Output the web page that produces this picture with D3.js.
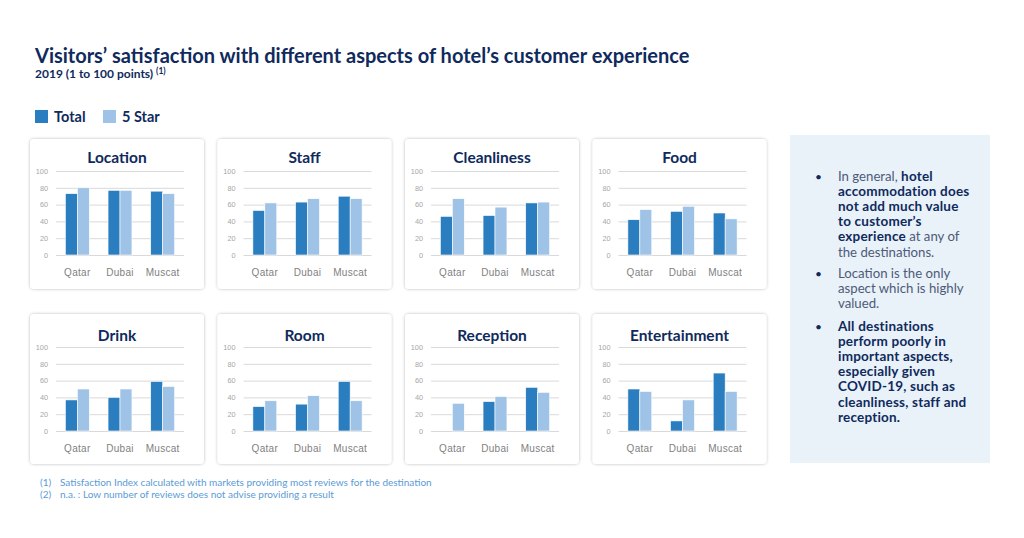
<!DOCTYPE html>
<html>
<head>
<meta charset="utf-8">
<script src="https://cdn.jsdelivr.net/npm/d3@7"></script>
<style>
  body { margin: 0; background: #fff; }
  svg { display: block; font-family: Lato, "Open Sans", sans-serif; }
  .tick text { fill: #a6a6a6; font-size: 7.3px; }
</style>
</head>
<body>
<svg width="1024" height="538"></svg>
<script>
// **** data ****
var aspects = ["Location", "Staff", "Cleanliness", "Food", "Drink", "Room", "Reception", "Entertainment"];
var cities = ["Qatar", "Dubai", "Muscat"];
var series = ["Total", "5 Star"];
var totalVals = [[73, 77, 76], [53, 63, 70], [46, 47, 62], [42, 52, 50], [37, 40, 59], [29, 32, 59], [null, 35, 52], [50, 12, 69]];
var fiveStarVals = [[80, 77, 73], [62, 67, 67], [67, 57, 63], [54, 58, 43], [50, 50, 53], [36, 42, 36], [33, 41, 46], [47, 37, 47]];
var yTicks = [0, 20, 40, 60, 80, 100];

var colors = {"Total": "#2a7ec0", "5 Star": "#9fc3e7"};
var navy = "#0f2a5c";

var svg = d3.select("svg");

// shadow for the cards
var defs = svg.append("defs");
var f = defs.append("filter").attr("id", "shadow").attr("x", "-10%").attr("y", "-10%").attr("width", "120%").attr("height", "120%");
f.append("feGaussianBlur").attr("in", "SourceAlpha").attr("stdDeviation", 1.6).attr("result", "b");
f.append("feFlood").attr("flood-color", "#000").attr("flood-opacity", 0.28);
f.append("feComposite").attr("in2", "b").attr("operator", "in").attr("result", "s");
var m = f.append("feMerge");
m.append("feMergeNode").attr("in", "s");
m.append("feMergeNode").attr("in", "SourceGraphic");

// **** titles ****
svg.append("text").attr("x", 35).attr("y", 63)
    .style("font-size", "20px").style("font-weight", 700).style("fill", navy)
    .text("Visitors’ satisfaction with different aspects of hotel’s customer experience");

var sub = svg.append("text").attr("x", 35).attr("y", 78)
    .style("font-size", "12px").style("font-weight", 700).style("fill", navy);
sub.append("tspan").text("2019 (1 to 100 points) ");
sub.append("tspan").attr("dy", -4).style("font-size", "8.5px").text("(1)");

// legend
var legend = svg.append("g").attr("transform", "translate(35,110)");
series.forEach(function (s, i) {
    var lx = i * 68;
    legend.append("rect").attr("x", lx).attr("y", 0).attr("width", 13).attr("height", 13).style("fill", colors[s]);
    legend.append("text").attr("x", lx + 19).attr("y", 12)
        .style("font-size", "14.5px").style("font-weight", 700).style("fill", navy).text(s);
});

// **** small multiples ****
var panelW = 174, panelH = 150;

var x0 = d3.scaleBand().domain(cities).range([26, 154]).paddingInner(0.44).paddingOuter(0.22);
var x1 = d3.scaleBand().domain(series).range([0, x0.bandwidth()]);
var y = d3.scaleLinear().domain([0, 100]).range([116, 32]);

aspects.forEach(function (name, i) {
    var col = i % 4, row = Math.floor(i / 4);
    var g = svg.append("g")
        .attr("transform", "translate(" + (30 + col * 187.5) + "," + (139 + row * 175) + ")");

    g.append("rect").attr("width", panelW).attr("height", panelH).attr("rx", 4)
        .style("fill", "#fff").attr("filter", "url(#shadow)");

    g.append("text").attr("x", panelW / 2).attr("y", row ? 27 : 24).attr("text-anchor", "middle")
        .style("font-size", "15.5px").style("font-weight", 700).style("fill", navy).text(name);

    var inner = g.append("g").attr("transform", "translate(0," + (row ? 1 : 0) + ")");

    var yAxis = inner.append("g").attr("transform", "translate(26,0)")
        .call(d3.axisLeft(y).tickValues(yTicks).tickSize(-128).tickPadding(8));
    yAxis.select(".domain").remove();
    yAxis.selectAll(".tick line").style("stroke", "#d9d9d9");

    var rows = cities.map(function (c, j) {
        return {city: c, vals: [{s: "Total", v: totalVals[i][j]}, {s: "5 Star", v: fiveStarVals[i][j]}]};
    });

    inner.selectAll(".grp").data(rows).enter().append("g")
        .attr("transform", function (d) { return "translate(" + x0(d.city) + ",0)"; })
        .selectAll("rect").data(function (d) { return d.vals.filter(function (e) { return e.v != null; }); })
        .enter().append("rect")
        .attr("x", function (d) { return x1(d.s); })
        .attr("width", x1.bandwidth())
        .attr("y", function (d) { return y(d.v); })
        .attr("height", function (d) { return y(0) - y(d.v); })
        .style("fill", function (d) { return colors[d.s]; })
        .style("stroke", "#fff").style("stroke-width", 0.6);

    var xAxis = inner.append("g").attr("transform", "translate(0,116)")
        .call(d3.axisBottom(x0).tickSize(0).tickPadding(14));
    xAxis.select(".domain").remove();
    xAxis.selectAll("text").style("font-size", "10px").style("fill", "#7f7f7f").style("letter-spacing", "0.3px");
});

// **** side box ****
svg.append("rect").attr("x", 790).attr("y", 135).attr("width", 200).attr("height", 328).style("fill", "#e9f1f9");

var bullets = [
    [[["In general, ", 0], ["hotel", 1]], [["accommodation does", 1]], [["not add much value", 1]], [["to customer’s", 1]], [["experience", 1], [" at any of", 0]], [["the destinations.", 0]]],
    [[["Location is the only", 0]], [["aspect which is highly", 0]], [["valued.", 0]]],
    [[["All destinations", 1]], [["perform poorly in", 1]], [["important aspects,", 1]], [["especially given", 1]], [["COVID-19, such as", 1]], [["cleanliness, staff and", 1]], [["reception.", 1]]]
];
var bulletY = [181, 278, 331];
bullets.forEach(function (b, bi) {
    svg.append("text").attr("x", 815).attr("y", bulletY[bi]).style("font-size", "12px").style("fill", navy).text("•");
    b.forEach(function (line, li) {
        var t = svg.append("text").attr("x", 838).attr("y", bulletY[bi] + li * 15.1);
        line.forEach(function (seg) {
            t.append("tspan").text(seg[0])
                .style("font-size", seg[1] ? "13.5px" : "13.2px")
                .style("letter-spacing", seg[1] ? "0.2px" : "0px")
                .style("font-weight", seg[1] ? 700 : 400)
                .style("fill", seg[1] ? navy : "#4d5b78");
        });
    });
});

// **** footnotes ****
var notes = [["(1)", "Satisfaction Index calculated with markets providing most reviews for the destination"],
             ["(2)", "n.a. : Low number of reviews does not advise providing a result"]];
notes.forEach(function (n, i) {
    svg.append("text").attr("x", 40).attr("y", 486 + i * 11.5).style("font-size", "10px").style("fill", "#5b9bd5").text(n[0]);
    svg.append("text").attr("x", 60).attr("y", 486 + i * 11.5).style("font-size", "10px").style("fill", "#5b9bd5").text(n[1]);
});
</script>
</body>
</html>
